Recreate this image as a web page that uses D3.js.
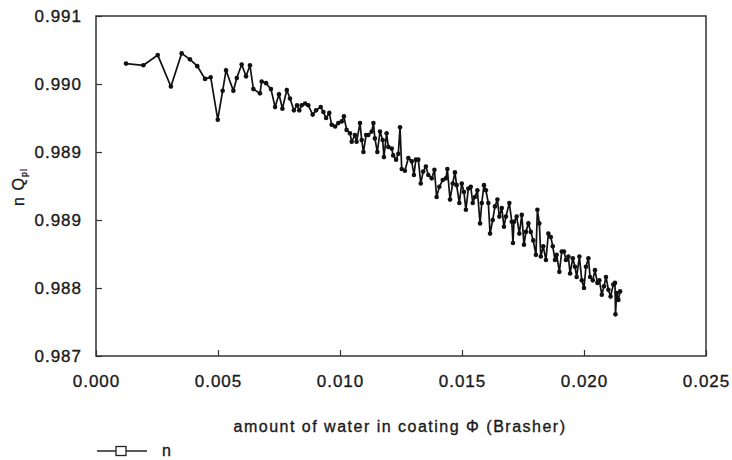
<!DOCTYPE html>
<html>
<head>
<meta charset="utf-8">
<script src="https://cdn.jsdelivr.net/npm/d3@7"></script>
<style>
  body { margin: 0; background: #fff; }
  svg text { font-family: "Liberation Sans", Arial, sans-serif; fill: #1a1a1a; stroke: #1a1a1a; stroke-width: 0.35px; }
</style>
</head>
<body>
<div id="chart"></div>
<script>
var w = 732;
var h = 460;
var margin = {top: 16, right: 26, bottom: 104, left: 96};

// amount of water in coating (Brasher)
var waterX = [
  0.00123, 0.00194, 0.00253, 0.00307, 0.00351, 0.00385, 0.00415, 0.00447, 0.00470, 0.00499,
  0.00519, 0.00533, 0.00563, 0.00577, 0.00597, 0.00615, 0.00631, 0.00645, 0.00672, 0.00679,
  0.00697, 0.00717, 0.00734, 0.00750, 0.00764, 0.00782, 0.00795, 0.00811, 0.00824, 0.00833,
  0.00843, 0.00857, 0.00870, 0.00888, 0.00902, 0.00921, 0.00932, 0.00943, 0.00956, 0.00966,
  0.00980, 0.00993, 0.01007, 0.01016, 0.01027, 0.01041, 0.01048, 0.01061, 0.01068, 0.01082,
  0.01089, 0.01096, 0.01107, 0.01116, 0.01130, 0.01137, 0.01143, 0.01153, 0.01164, 0.01175,
  0.01180, 0.01191, 0.01198, 0.01212, 0.01218, 0.01230, 0.01239, 0.01246, 0.01253, 0.01266,
  0.01280, 0.01294, 0.01303, 0.01311, 0.01321, 0.01331, 0.01341, 0.01352, 0.01362, 0.01376,
  0.01387, 0.01396, 0.01407, 0.01421, 0.01434, 0.01440, 0.01451, 0.01462, 0.01471, 0.01478,
  0.01489, 0.01499, 0.01508, 0.01516, 0.01526, 0.01536, 0.01544, 0.01553, 0.01563, 0.01574,
  0.01581, 0.01590, 0.01598, 0.01608, 0.01615, 0.01626, 0.01635, 0.01645, 0.01653, 0.01663,
  0.01672, 0.01680, 0.01694, 0.01704, 0.01709, 0.01713, 0.01724, 0.01735, 0.01745, 0.01754,
  0.01762, 0.01772, 0.01782, 0.01792, 0.01803, 0.01809, 0.01817, 0.01823, 0.01833, 0.01844,
  0.01854, 0.01864, 0.01872, 0.01881, 0.01888, 0.01899, 0.01909, 0.01918, 0.01926, 0.01936,
  0.01943, 0.01954, 0.01963, 0.01970, 0.01981, 0.01991, 0.02000, 0.02008, 0.02018, 0.02025,
  0.02036, 0.02045, 0.02055, 0.02063, 0.02073, 0.02082, 0.02090, 0.02100, 0.02109, 0.02120,
  0.02127, 0.02129, 0.02134, 0.02141, 0.02148
];

// n Qpl
var nValues = [
  0.99044, 0.99042, 0.99054, 0.99017, 0.99056, 0.99049, 0.99041, 0.99026, 0.99028, 0.98978,
  0.99012, 0.99036, 0.99012, 0.99027, 0.99043, 0.99029, 0.99042, 0.99014, 0.99009, 0.99023,
  0.99021, 0.99014, 0.98993, 0.99008, 0.98991, 0.99013, 0.99003, 0.98989, 0.98995, 0.98989,
  0.98995, 0.98997, 0.98995, 0.98984, 0.98989, 0.98993, 0.98987, 0.98980, 0.98986, 0.98972,
  0.98970, 0.98974, 0.98976, 0.98982, 0.98966, 0.98962, 0.98952, 0.98960, 0.98952, 0.98974,
  0.98954, 0.98940, 0.98960, 0.98960, 0.98964, 0.98974, 0.98956, 0.98940, 0.98964, 0.98954,
  0.98934, 0.98962, 0.98946, 0.98944, 0.98936, 0.98931, 0.98938, 0.98969, 0.98920, 0.98918,
  0.98933, 0.98929, 0.98913, 0.98931, 0.98931, 0.98903, 0.98917, 0.98923, 0.98913, 0.98909,
  0.98919, 0.98887, 0.98899, 0.98907, 0.98909, 0.98920, 0.98884, 0.98903, 0.98916, 0.98901,
  0.98880, 0.98903, 0.98893, 0.98872, 0.98897, 0.98899, 0.98880, 0.98887, 0.98895, 0.98856,
  0.98880, 0.98901, 0.98895, 0.98880, 0.98844, 0.98860, 0.98876, 0.98884, 0.98864, 0.98874,
  0.98852, 0.98864, 0.98880, 0.98858, 0.98833, 0.98858, 0.98864, 0.98844, 0.98866, 0.98831,
  0.98846, 0.98856, 0.98846, 0.98836, 0.98819, 0.98872, 0.98856, 0.98817, 0.98829, 0.98813,
  0.98844, 0.98840, 0.98829, 0.98813, 0.98819, 0.98799, 0.98823, 0.98823, 0.98813, 0.98817,
  0.98797, 0.98815, 0.98805, 0.98793, 0.98817, 0.98789, 0.98780, 0.98805, 0.98815, 0.98793,
  0.98789, 0.98801, 0.98786, 0.98789, 0.98772, 0.98782, 0.98793, 0.98778, 0.98770, 0.98784,
  0.98786, 0.98749, 0.98774, 0.98766, 0.98776
];

var xTicks = [0, 0.005, 0.010, 0.015, 0.020, 0.025];
var yTicks = [0.9870, 0.9878, 0.9886, 0.9894, 0.9902, 0.9910];

var dataset = waterX.map(function (d, i) { return [d, nValues[i]]; });

var xScale = d3.scaleLinear()
  .domain([0, 0.025])
  .range([margin.left, w - margin.right]);

var yScale = d3.scaleLinear()
  .domain([0.987, 0.991])
  .range([h - margin.bottom, margin.top]);

var svg = d3.select("#chart")
  .append("svg")
  .attr("width", w)
  .attr("height", h);

// axes, ticks pointing inward
var xAxis = svg.append("g")
  .attr("transform", "translate(0," + (h - margin.bottom) + ")")
  .call(d3.axisBottom(xScale).tickValues(xTicks).tickFormat(d3.format(".3f"))
    .tickSizeInner(-6).tickSizeOuter(0).tickPadding(19));

var yAxis = svg.append("g")
  .attr("transform", "translate(" + margin.left + ",0)")
  .call(d3.axisLeft(yScale).tickValues(yTicks).tickFormat(d3.format(".3f"))
    .tickSizeInner(-6).tickSizeOuter(0).tickPadding(14));

[xAxis, yAxis].forEach(function (g) {
  g.select(".domain").remove();
  g.selectAll(".tick line").attr("stroke", "#333").attr("stroke-width", 1.2);
  g.selectAll(".tick text")
    .attr("font-size", "17px")
    .attr("letter-spacing", "1px")
    .attr("fill", "#1a1a1a");
});

// frame
svg.append("rect")
  .attr("x", xScale(0))
  .attr("y", yScale(0.991))
  .attr("width", xScale(0.025) - xScale(0))
  .attr("height", yScale(0.987) - yScale(0.991))
  .attr("fill", "none")
  .attr("stroke", "#333")
  .attr("stroke-width", 1.5);

// series
var line = d3.line()
  .x(function (d) { return xScale(d[0]); })
  .y(function (d) { return yScale(d[1]); });

svg.append("path")
  .datum(dataset)
  .attr("d", line)
  .attr("fill", "none")
  .attr("stroke", "#111")
  .attr("stroke-width", 1.7);

svg.selectAll("circle.pt")
  .data(dataset)
  .enter()
  .append("circle")
  .attr("class", "pt")
  .attr("cx", function (d) { return xScale(d[0]); })
  .attr("cy", function (d) { return yScale(d[1]); })
  .attr("r", 2.3)
  .attr("fill", "#111");

// axis titles
svg.append("text")
  .attr("x", 400)
  .attr("y", 432)
  .attr("text-anchor", "middle")
  .attr("font-size", "16px")
  .attr("letter-spacing", "1.5px")
  .text("amount of water in coating \u03A6 (Brasher)");

var yTitle = svg.append("text")
  .attr("transform", "translate(24,187) rotate(-90)")
  .attr("text-anchor", "middle")
  .attr("font-size", "16px")
  .attr("letter-spacing", "1px");
yTitle.append("tspan").text("n Q");
yTitle.append("tspan").attr("font-size", "9px").attr("dy", 3).text("pl");

// legend
var legend = svg.append("g");
legend.append("line")
  .attr("x1", 97).attr("x2", 147)
  .attr("y1", 451).attr("y2", 451)
  .attr("stroke", "#222").attr("stroke-width", 1.3);
legend.append("rect")
  .attr("x", 116).attr("y", 446.5)
  .attr("width", 10).attr("height", 9)
  .attr("fill", "#fff").attr("stroke", "#222").attr("stroke-width", 1.3);
legend.append("text")
  .attr("x", 162).attr("y", 456)
  .attr("font-size", "16px")
  .text("n");
</script>
</body>
</html>
